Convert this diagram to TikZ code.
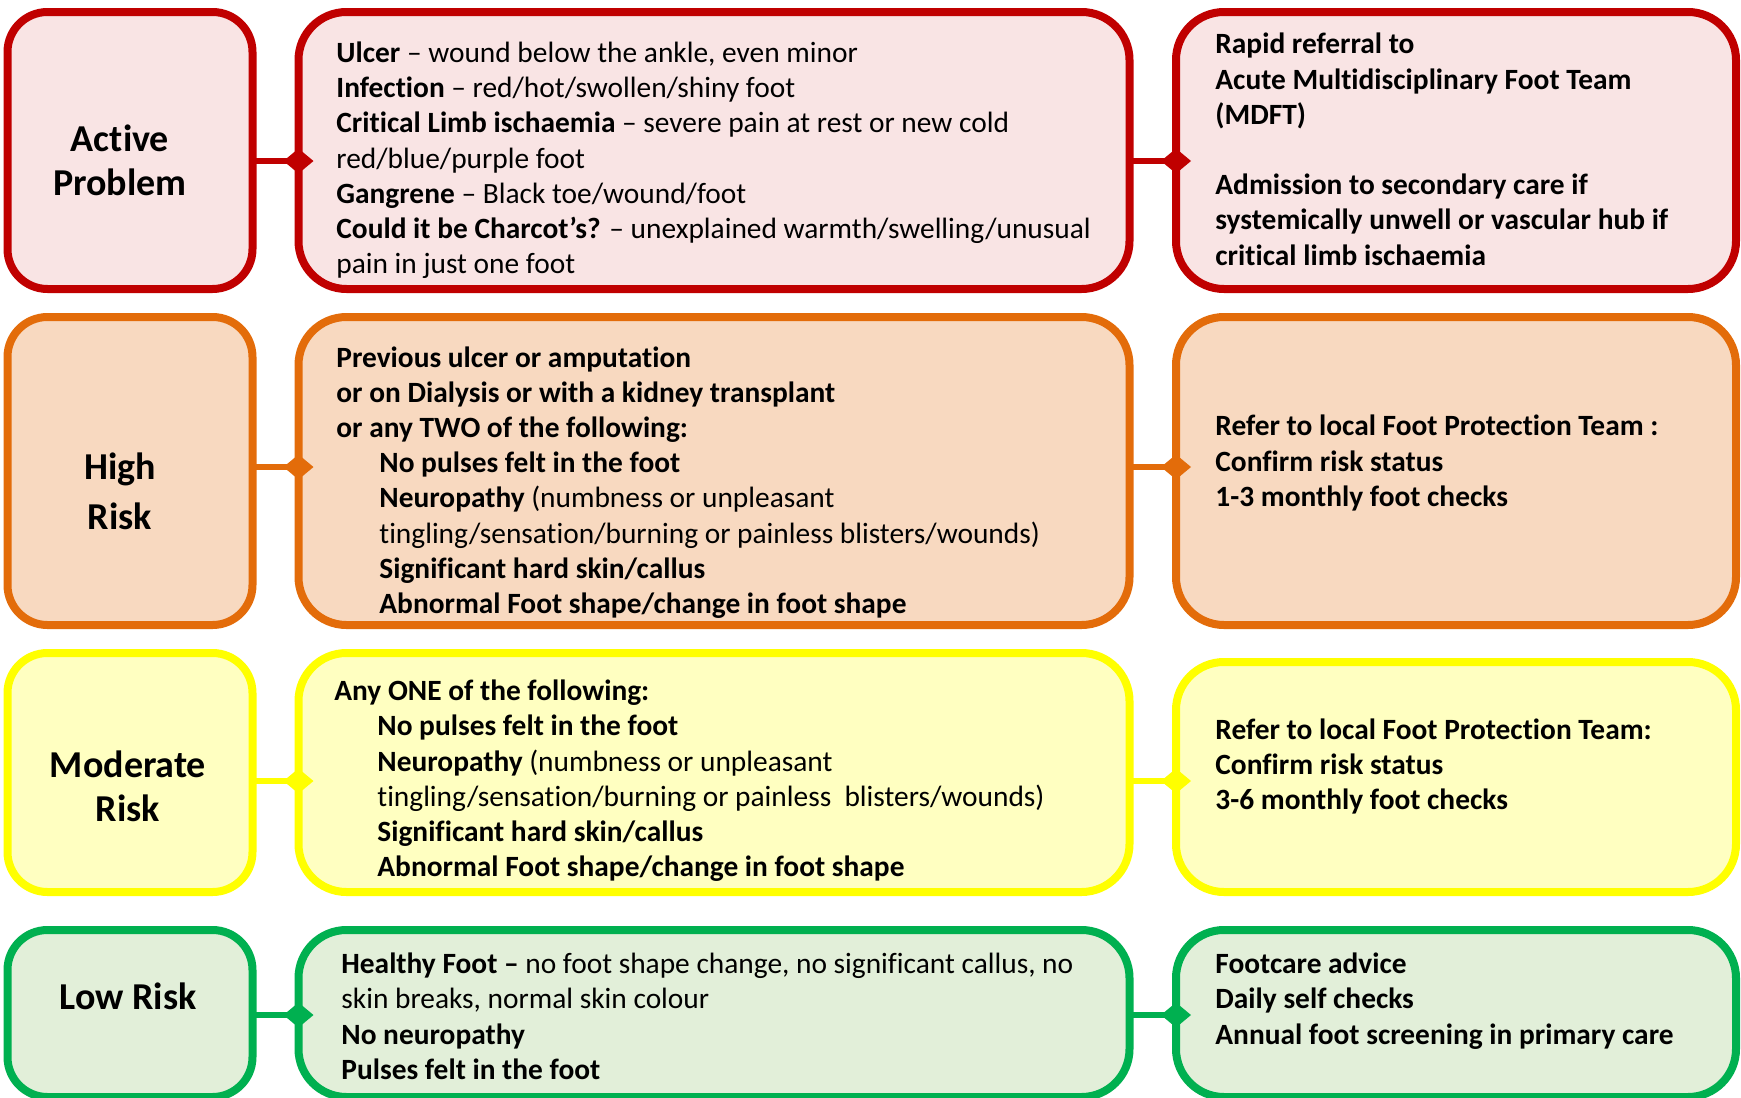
\documentclass[tikz,border=0pt]{standalone}
\usepackage{fontspec}
\setmainfont{Carlito}[Ligatures={NoCommon}]
\usetikzlibrary{arrows.meta}
\definecolor{redB}{HTML}{C00000}
\definecolor{redF}{HTML}{F9E4E4}
\definecolor{orgB}{HTML}{E36C0A}
\definecolor{orgF}{HTML}{F8D9C0}
\definecolor{yelB}{HTML}{FFFF00}
\definecolor{yelF}{HTML}{FFFFC1}
\definecolor{grnB}{HTML}{00B050}
\definecolor{grnF}{HTML}{E2EFD9}
\newcommand\mytab[1]{\begin{tabular}[t]{@{}l@{}}#1\end{tabular}}
\newcommand\ind{\hspace*{21.5pt}}
\begin{document}
\begin{tikzpicture}[x=0.5pt,y=-0.5pt,
  box/.style={draw, line width=4pt, outer sep=0pt, inner sep=0pt},
  lbox/.style={box, rounded corners=20pt, minimum width=122.5pt},
  mbox/.style={box, rounded corners=24pt, minimum width=415.5pt},
  rbox/.style={box, rounded corners=24pt, minimum width=280pt},
  conn/.style={line width=3pt, -{Diamond[length=15pt 0 0,width=12.5pt 0 0]}, shorten >=-7.5pt},
  body/.style={anchor=base west, inner sep=0pt, font=\fontsize{14.7}{17.6}\selectfont},
  rbody/.style={body, font=\fontsize{14.7}{17.6}\selectfont\bfseries},
  title/.style={align=center, inner sep=0pt, font=\fontsize{19}{22}\selectfont\bfseries}]
\useasboundingbox (0,0) rectangle (1741,1098);
\clip (0,0) rectangle (1741,1098);

% Row 1
\node[lbox, draw=redB, fill=redF, minimum height=138.5pt] (l1) at (130,150.5) {};
\node[mbox, draw=redB, fill=redF, minimum height=138.5pt] (m1) at (714,150.5) {};
\node[rbox, draw=redB, fill=redF, minimum height=138.5pt] (r1) at (1456,150.5) {};
% Row 2
\node[lbox, draw=orgB, fill=orgF, minimum height=154pt] (l2) at (130,471) {};
\node[mbox, draw=orgB, fill=orgF, minimum height=154pt] (m2) at (714,471) {};
\node[rbox, draw=orgB, fill=orgF, minimum height=154pt] (r2) at (1456,471) {};
% Row 3
\node[lbox, draw=yelB, fill=yelF, minimum height=119.5pt] (l3) at (130,772.5) {};
\node[mbox, draw=yelB, fill=yelF, minimum height=119.5pt] (m3) at (714,772.5) {};
\node[rbox, draw=yelB, fill=yelF, minimum height=115pt] (r3) at (1456,777) {};
% Row 4
\node[lbox, draw=grnB, fill=grnF, minimum height=83.5pt] (l4) at (130,1013.5) {};
\node[mbox, draw=grnB, fill=grnF, minimum height=83.5pt] (m4) at (714,1013.5) {};
\node[rbox, draw=grnB, fill=grnF, minimum height=83.5pt] (r4) at (1456,1013.5) {};

% connector rows
\coordinate (y1) at (0,161);
\coordinate (y2) at (0,467);
\coordinate (y3) at (0,781);
\coordinate (y4) at (0,1015);
\draw[conn, redB] (l1.east |- y1) -- (m1.west |- y1);
\draw[conn, redB] (m1.east |- y1) -- (r1.west |- y1);
\draw[conn, orgB] (l2.east |- y2) -- (m2.west |- y2);
\draw[conn, orgB] (m2.east |- y2) -- (r2.west |- y2);
\draw[conn, yelB] (l3.east |- y3) -- (m3.west |- y3);
\draw[conn, yelB] (m3.east |- y3) -- (r3.west |- y3);
\draw[conn, grnB] (l4.east |- y4) -- (m4.west |- y4);
\draw[conn, grnB] (m4.east |- y4) -- (r4.west |- y4);

% titles
\node[title] (t1) at (120,160) {Active\\Problem};
\node[title, font=\fontsize{19}{25}\selectfont\bfseries] (t2) at (120,491) {High\\Risk};
\node[title] (t3) at (128,786) {Moderate\\Risk};
\node[title] (t4) at (128,996) {Low Risk};

% middle texts
\node[body] (b1) at (336,62.5) {\mytab{%
\textbf{Ulcer} – wound below the ankle, even minor\\
\textbf{Infection} – red/hot/swollen/shiny foot\\
\textbf{Critical Limb ischaemia} – severe pain at rest or new cold\\
red/blue/purple foot\\
\textbf{Gangrene} – Black toe/wound/foot\\
\textbf{Could it be Charcot’s?} – unexplained warmth/swelling/unusual\\
pain in just one foot}};
\node[body] (b2) at (336,367) {\mytab{%
\textbf{Previous ulcer or amputation}\\
\textbf{or on Dialysis or with a kidney transplant}\\
\textbf{or any TWO of the following:}\\
\ind\textbf{No pulses felt in the foot}\\
\ind\textbf{Neuropathy} (numbness or unpleasant\\
\ind tingling/sensation/burning or painless blisters/wounds)\\
\ind\textbf{Significant hard skin/callus}\\
\ind\textbf{Abnormal Foot shape/change in foot shape}}};
\node[body] (b3) at (334,700.6) {\mytab{%
\textbf{Any ONE of the following:}\\
\ind\textbf{No pulses felt in the foot}\\
\ind\textbf{Neuropathy} (numbness or unpleasant\\
\ind tingling/sensation/burning or painless\ \ blisters/wounds)\\
\ind\textbf{Significant hard skin/callus}\\
\ind\textbf{Abnormal Foot shape/change in foot shape}}};
\node[body] (b4) at (341,973.7) {\mytab{%
\textbf{Healthy Foot –} no foot shape change, no significant callus, no\\
skin breaks, normal skin colour\\
\textbf{No neuropathy}\\
\textbf{Pulses felt in the foot}}};

% right texts
\node[rbody] (c1) at (1215,53.9) {\mytab{%
Rapid referral to\\
Acute Multidisciplinary Foot Team\\
(MDFT)\\
\\
Admission to secondary care if\\
systemically unwell or vascular hub if\\
critical limb ischaemia}};
\node[rbody] (c2) at (1215,435.9) {\mytab{%
Refer to local Foot Protection Team :\\
Confirm risk status\\
1-3 monthly foot checks}};
\node[rbody] (c3) at (1215,739) {\mytab{%
Refer to local Foot Protection Team:\\
Confirm risk status\\
3-6 monthly foot checks}};
\node[rbody] (c4) at (1215,973.7) {\mytab{%
Footcare advice\\
Daily self checks\\
Annual foot screening in primary care}};
\end{tikzpicture}
\end{document}
